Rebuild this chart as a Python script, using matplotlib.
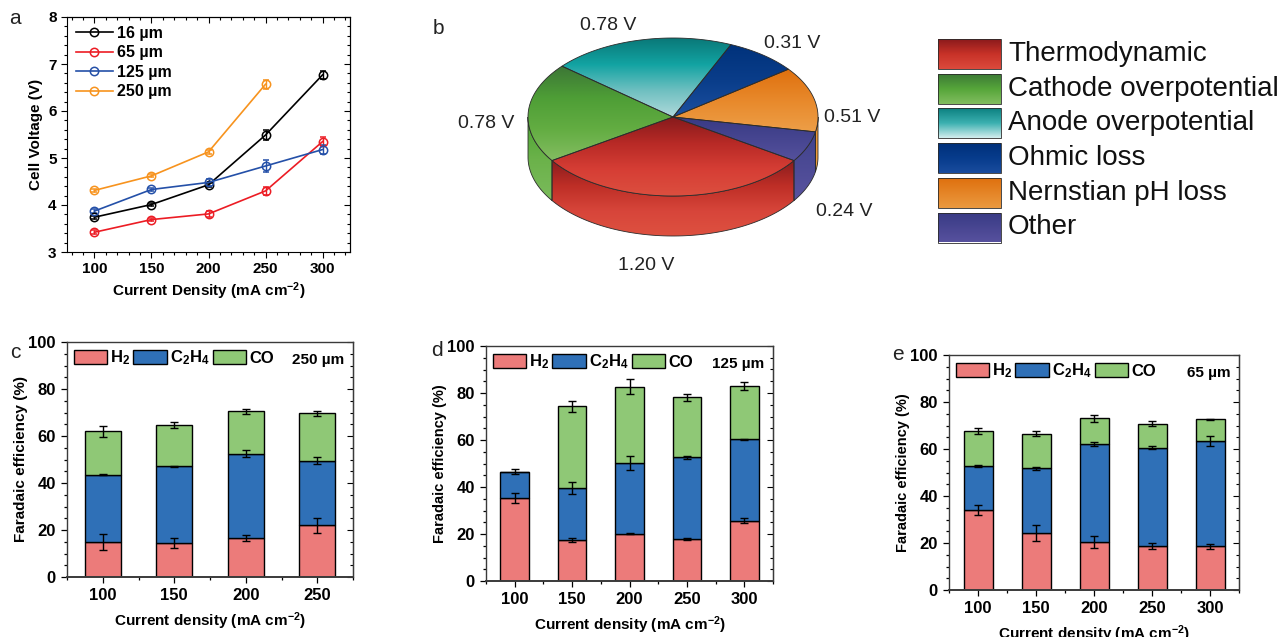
import numpy as np
import matplotlib
matplotlib.use("Agg")
import matplotlib.pyplot as plt
from matplotlib.patches import Polygon, Patch
from matplotlib.lines import Line2D
from matplotlib.colors import LinearSegmentedColormap
from matplotlib.ticker import MultipleLocator, FixedLocator, NullFormatter

plt.rcParams['font.family'] = ['Liberation Sans', 'DejaVu Sans']
plt.rcParams['mathtext.fontset'] = 'custom'
plt.rcParams['mathtext.rm'] = 'Liberation Sans'
plt.rcParams['mathtext.bf'] = 'Liberation Sans:bold'
plt.rcParams['mathtext.it'] = 'Liberation Sans:italic'

# ---- panel a: cell voltage vs current density
j_a = [100, 150, 200, 250, 300]
v_16 = [3.74, 4.01, 4.43, 5.49, 6.77]
e_16 = [0.03, 0.03, 0.04, 0.10, 0.08]
v_65 = [3.42, 3.69, 3.81, 4.30, 5.35]
e_65 = [0.04, 0.03, 0.07, 0.08, 0.10]
v_125 = [3.87, 4.33, 4.48, 4.83, 5.18]
e_125 = [0.04, 0.04, 0.08, 0.12, 0.10]
j_250 = [100, 150, 200, 250]
v_250 = [4.31, 4.62, 5.13, 6.57]
e_250 = [0.03, 0.03, 0.04, 0.10]

# ---- panel b: voltage breakdown
loss_names = ['Thermodynamic', 'Cathode overpotential', 'Anode overpotential',
              'Ohmic loss', 'Nernstian pH loss', 'Other']
loss_v = [1.20, 0.78, 0.78, 0.31, 0.51, 0.24]

# ---- panels c-e: faradaic efficiency
j_c = [100, 150, 200, 250]
h2_c = [14.8, 14.3, 16.6, 22.1]
h2_c_err = [3.5, 2.1, 1.2, 3.2]
c2h4_c = [28.8, 32.8, 35.9, 27.4]
c2h4_c_err = [0.4, 0.2, 1.4, 1.6]
co_c = [18.4, 17.4, 18.1, 20.1]
co_c_err = [2.4, 1.3, 1.1, 1.0]

j_d = [100, 150, 200, 250, 300]
h2_d = [35.4, 17.5, 20.1, 17.9, 25.6]
h2_d_err = [2.2, 1.0, 0.2, 0.6, 1.0]
c2h4_d = [11.1, 22.1, 30.1, 34.7, 34.7]
c2h4_d_err = [1.0, 2.4, 3.1, 0.8, 0.3]
co_d = [0.0, 34.7, 32.4, 25.5, 22.7]
co_d_err = [0.0, 2.2, 3.2, 1.6, 1.8]

j_e = [100, 150, 200, 250, 300]
h2_e = [34.0, 24.2, 20.4, 18.6, 18.6]
h2_e_err = [2.0, 3.5, 2.5, 1.2, 1.0]
c2h4_e = [18.7, 27.6, 41.6, 42.0, 44.8]
c2h4_e_err = [0.3, 0.7, 0.8, 0.6, 2.3]
co_e = [15.0, 14.7, 11.0, 10.2, 9.3]
co_e_err = [1.4, 1.0, 1.4, 1.0, 0.2]

W, H = 1283, 637
fig = plt.figure(figsize=(W / 100, H / 100), dpi=100)


def px_axes(x0, y0, x1, y1):
    return fig.add_axes([x0 / W, 1 - y1 / H, (x1 - x0) / W, (y1 - y0) / H])


def inner_ticks(ax, xmaj=None, xmin=None, ymaj=None, ymin=None):
    # Origin style: mirrored inward ticks on top / right
    if xmaj is not None:
        s = ax.secondary_xaxis('top')
        s.xaxis.set_major_locator(FixedLocator(xmaj))
        s.xaxis.set_minor_locator(FixedLocator(xmin))
        s.tick_params(which='both', direction='in', labeltop=False, width=0.8)
        s.tick_params(which='major', length=4)
        s.tick_params(which='minor', length=2.5)
        s.xaxis.set_major_formatter(NullFormatter())
    if ymaj is not None:
        s = ax.secondary_yaxis('right')
        s.yaxis.set_major_locator(FixedLocator(ymaj))
        s.yaxis.set_minor_locator(FixedLocator(ymin))
        s.tick_params(which='both', direction='in', labelright=False, width=0.8)
        s.tick_params(which='major', length=4)
        s.tick_params(which='minor', length=2.5)
        s.yaxis.set_major_formatter(NullFormatter())


# overlay in pixel coordinates for the pie, its legend and panel letters
ov = fig.add_axes([0, 0, 1, 1])
ov.set_xlim(0, W)
ov.set_ylim(H, 0)
ov.axis('off')

# ================= a =================
ax = px_axes(67, 17, 350, 252)
series = [(j_a, v_16, e_16, 'black', '16 µm'),
          (j_a, v_65, e_65, '#ec1c24', '65 µm'),
          (j_a, v_125, e_125, '#2450a8', '125 µm'),
          (j_250, v_250, e_250, '#f7931e', '250 µm')]
handles = []
for xx, yy, ee, col, lab in series:
    ax.errorbar(xx, yy, yerr=ee, color=col, marker='o', ms=6, mfc='none',
                mec=col, mew=1.1, lw=1.2, capsize=2.5, elinewidth=1)
    handles.append(Line2D([], [], color=col, marker='o', ms=6, mfc='none',
                          mew=1.1, lw=1.2, label=lab))
ax.set_xlim(76, 324)
ax.set_ylim(3, 8)
ax.xaxis.set_major_locator(MultipleLocator(50))
ax.xaxis.set_minor_locator(MultipleLocator(10))
ax.yaxis.set_major_locator(MultipleLocator(1))
ax.yaxis.set_minor_locator(MultipleLocator(0.2))
ax.tick_params(which='both', direction='out', width=0.8)
ax.tick_params(which='major', length=4, labelsize=11)
ax.tick_params(which='minor', length=2.5)
for t in ax.get_xticklabels() + ax.get_yticklabels():
    t.set_fontweight('bold')
inner_ticks(ax, xmaj=np.arange(100, 301, 50), xmin=np.arange(80, 321, 10),
            ymaj=np.arange(3, 8.1, 1), ymin=np.arange(3, 8.01, 0.2))
ax.set_xlabel(r'Current Density (mA cm$^{\mathbf{-2}}$)', fontsize=11,
              fontweight='bold', labelpad=3)
ax.set_ylabel('Cell Voltage (V)', fontsize=11, fontweight='bold', labelpad=4)
ax.legend(handles=handles, loc='upper left', frameon=False, handlelength=2.3,
          handletextpad=0.3, borderaxespad=0.25, borderpad=0.3, labelspacing=0.28,
          prop={'weight': 'bold', 'size': 11.5})

# ================= b (3D pie) =================
cx, cy, ra, rb, depth = 673, 117, 145, 79, 40
edge = '#2b2b2b'
top_cols = [['#861a1c', '#b82a26', '#d63e35', '#dc4f3f'],
            ['#3c7636', '#4e9e36', '#63ad42', '#84bd62'],
            ['#0a7878', '#12a3a2', '#6fc0c1', '#b0d9db'],
            ['#00327b', '#0a3d8a', '#1c50a0'],
            ['#df700e', '#e8892b', '#ed9f48'],
            ['#383a84', '#55519d']]
side_cols = [['#8a1c1e', '#bd2e26', '#d7453a', '#de5140'],
             ['#4aa431', '#6bb24a', '#7bbb5c'],
             ['#0a7878', '#6fc0c1'],
             ['#00327b', '#1c50a0'],
             ['#e9902e', '#f0a244'],
             ['#40428c', '#59539f']]
legend_cols = [['#8a1a1c', '#c83228', '#dc4a3c'],
               ['#3c7a36', '#56a63a', '#82bd60'],
               ['#0c8080', '#3bb0b0', '#d4eeee'],
               ['#00307a', '#073c8c', '#1a4c9e'],
               ['#df700e', '#eb9a40'],
               ['#383a84', '#57519e']]


def arc(t0, t1, dy=0.0, n=80):
    t = np.radians(np.linspace(t0, t1, n))
    return np.column_stack([cx + ra * np.cos(t), cy - rb * np.sin(t) + dy])


def grad_fill(pts, colors, z):
    poly = Polygon(pts, closed=True, facecolor='none', edgecolor=edge,
                   lw=0.6, zorder=z + 0.1)
    ov.add_patch(poly)
    cmap = LinearSegmentedColormap.from_list('g', colors)
    x0, x1 = pts[:, 0].min(), pts[:, 0].max()
    y0, y1 = pts[:, 1].min(), pts[:, 1].max()
    im = ov.imshow(np.linspace(0, 1, 256).reshape(-1, 1), cmap=cmap,
                   extent=(x0, x1, y1, y0), origin='upper', aspect='auto',
                   interpolation='bilinear', zorder=z)
    im.set_clip_path(poly)


vals = np.array(loss_v)
spans = vals / vals.sum() * 360
start = 270 + spans[0] / 2
bounds = start - np.concatenate([[0], np.cumsum(spans)])

# side walls (front half only)
for i in range(len(vals)):
    hi, lo = bounds[i], bounds[i + 1]
    for f0, f1 in [(-180, 0), (180, 360)]:
        s0, s1 = max(lo, f0), min(hi, f1)
        if s1 > s0:
            pts = np.vstack([arc(s0, s1), arc(s1, s0, depth)])
            grad_fill(pts, side_cols[i], 2)
# top faces
for i in range(len(vals)):
    hi, lo = bounds[i], bounds[i + 1]
    pts = np.vstack([[cx, cy], arc(hi, lo)])
    grad_fill(pts, top_cols[i], 3)

label_pos = [(646, 265), (486, 123), (608, 26), (792, 43), (852, 118), (844, 212)]
for (lx, ly), v in zip(label_pos, loss_v):
    ov.text(lx, ly, f'{v:.2f} V', fontsize=14, ha='center', va='center',
            color='#222222')

# pie legend
for i, name in enumerate(loss_names):
    ytop = 39 + i * 34.7
    box = np.array([[938, ytop], [1001, ytop], [1001, ytop + 30], [938, ytop + 30]])
    grad_fill(box, legend_cols[i], 3)
    ov.text(1008, ytop + 15, name, fontsize=20, ha='left', va='center',
            color='#111111')

# ================= c, d, e =================
c_h2, c_c2h4, c_co = '#ec7b7a', '#2f70b7', '#8fc876'


def fe_panel(ax, j, parts, tag, ylab_size=10.5):
    x = np.arange(len(j))
    base = np.zeros(len(j))
    for vals_, errs, col in parts:
        vals_ = np.array(vals_)
        errs = np.array(errs)
        ax.bar(x, vals_, 0.5, bottom=base, color=col, edgecolor='black',
               lw=1, zorder=2)
        top = base + vals_
        m = errs > 0
        ax.errorbar(x[m], top[m], yerr=errs[m], fmt='none', ecolor='black',
                    elinewidth=1, capsize=3, capthick=1, zorder=3)
        base = top
    ax.set_xlim(-0.5, len(j) - 0.5)
    ax.set_ylim(0, 100)
    ax.set_xticks(x)
    ax.set_xticklabels([str(v) for v in j])
    ax.set_xticks(np.arange(len(j) + 1) - 0.5, minor=True)
    ax.yaxis.set_major_locator(MultipleLocator(20))
    ax.yaxis.set_minor_locator(MultipleLocator(5))
    ax.tick_params(which='both', direction='out', width=0.9)
    ax.tick_params(which='major', length=4.5, labelsize=12)
    ax.tick_params(which='minor', length=2.5)
    for t in ax.get_xticklabels() + ax.get_yticklabels():
        t.set_fontweight('bold')
    for s in ax.spines.values():
        s.set_color('#3a3a3a')
        s.set_linewidth(1)
    ax.spines['bottom'].set_linewidth(1.4)
    inner_ticks(ax, ymaj=np.arange(0, 101, 20), ymin=np.arange(0, 101, 5))
    ax.set_xlabel(r'Current density (mA cm$^{\mathbf{-2}}$)', fontsize=11,
                  fontweight='bold', labelpad=5)
    ax.set_ylabel('Faradaic efficiency (%)', fontsize=ylab_size,
                  fontweight='bold', labelpad=0)
    handles = [Patch(facecolor=c_h2, edgecolor='black', lw=1, label=r'H$_\mathbf{2}$'),
               Patch(facecolor=c_c2h4, edgecolor='black', lw=1,
                     label=r'C$_\mathbf{2}$H$_\mathbf{4}$'),
               Patch(facecolor=c_co, edgecolor='black', lw=1, label='CO')]
    ax.legend(handles=handles, loc='upper left', ncol=3, frameon=False,
              handlelength=2.0, handleheight=0.95, handletextpad=0.18,
              columnspacing=0.2, borderaxespad=0.2, borderpad=0.2,
              prop={'weight': 'bold', 'size': 12})
    ax.text(0.97, 0.955, tag, transform=ax.transAxes, ha='right', va='top',
            fontsize=11, fontweight='bold')


ax_c = px_axes(67, 342, 353, 577)
fe_panel(ax_c, j_c, [(h2_c, h2_c_err, c_h2), (c2h4_c, c2h4_c_err, c_c2h4),
                     (co_c, co_c_err, c_co)], '250 µm', ylab_size=11)
ax_d = px_axes(486, 346, 773, 581)
fe_panel(ax_d, j_d, [(h2_d, h2_d_err, c_h2), (c2h4_d, c2h4_d_err, c_c2h4),
                     (co_d, co_d_err, c_co)], '125 µm')
ax_e = px_axes(949, 355, 1239, 590)
fe_panel(ax_e, j_e, [(h2_e, h2_e_err, c_h2), (c2h4_e, c2h4_e_err, c_c2h4),
                     (co_e, co_e_err, c_co)], '65 µm')

# panel letters
for lt, (lx, ly) in zip('abcde', [(15, 18), (438, 28), (15, 352), (437, 350), (898, 355)]):
    ov.text(lx, ly, lt, fontsize=15, ha='center', va='center', color='#222222')

ov.set_xlim(0, W)
ov.set_ylim(H, 0)
fig.savefig('out.png', dpi=100)
